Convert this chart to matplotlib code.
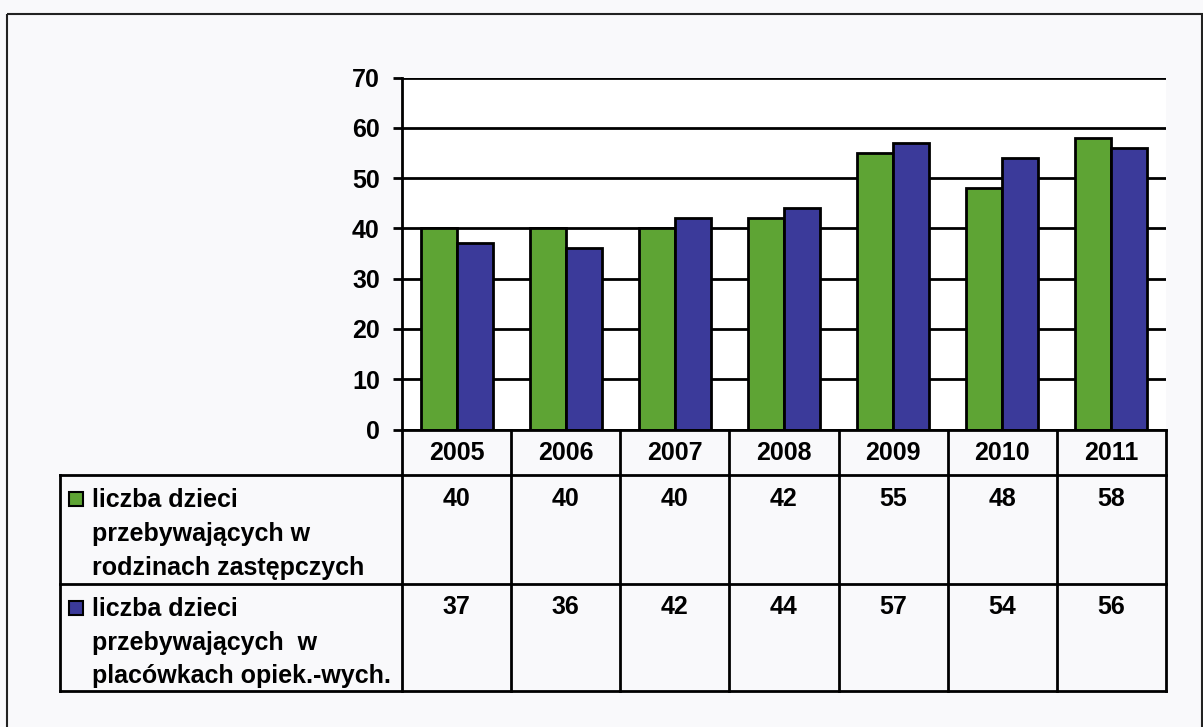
import numpy as np
import matplotlib
matplotlib.use('Agg')
import matplotlib.pyplot as plt
from matplotlib.patches import Rectangle

# dane z wykresu
lata = ['2005', '2006', '2007', '2008', '2009', '2010', '2011']
rodziny = [40, 40, 40, 42, 55, 48, 58]
placowki = [37, 36, 42, 44, 57, 54, 56]
opisy = ['liczba dzieci\nprzebywających w\nrodzinach zastępczych',
         'liczba dzieci\nprzebywających  w\nplacówkach opiek.-wych.']
kolory = ['#5ea434', '#3b3a9a']

plt.rcParams['font.family'] = ['Liberation Sans', 'DejaVu Sans']
plt.rcParams['font.weight'] = 'bold'

W, H = 1203, 727
fig = plt.figure(figsize=(W / 100, H / 100), dpi=100, facecolor='#f9f9fb')

# uklad w pikselach
ax_l, ax_r = 402, 1166
ax_t, ax_b = 77.5, 429.5
wiersz_nagl = 475
wiersze = [475, 583.5]
tab_dol = 691
leg_l = 60

lw = 2.0

ax = fig.add_axes([ax_l / W, 1 - ax_b / H, (ax_r - ax_l) / W, (ax_b - ax_t) / H])
ax.set_facecolor('white')
x = np.arange(len(lata))
bw = 0.33
ax.bar(x - bw / 2, rodziny, bw, color=kolory[0], edgecolor='black', linewidth=lw)
ax.bar(x + bw / 2, placowki, bw, color=kolory[1], edgecolor='black', linewidth=lw)
ax.set_xlim(-0.5, len(lata) - 0.5)
ax.set_ylim(0, 70)
ax.set_yticks(range(0, 71, 10))
ax.set_xticks([])
ax.yaxis.grid(True, color='black', linewidth=lw)
ax.set_axisbelow(True)
for s in ['top', 'right']:
    ax.spines[s].set_visible(False)
for s in ['left', 'bottom']:
    ax.spines[s].set_linewidth(lw)
ax.tick_params(axis='y', length=6.5, width=lw, pad=9.5, labelsize=18)

# tabela danych pod wykresem
tb = fig.add_axes([0, 0, 1, 1], facecolor='none')
tb.set_xlim(0, W)
tb.set_ylim(H, 0)
tb.axis('off')

kol = np.linspace(ax_l, ax_r, len(lata) + 1)
srodki = (kol[:-1] + kol[1:]) / 2
for k in kol:
    tb.plot([k, k], [ax_b, tab_dol], color='black', lw=lw, solid_capstyle='projecting')
for yy in [wiersz_nagl, wiersze[1], tab_dol]:
    tb.plot([leg_l, ax_r], [yy, yy], color='black', lw=lw, solid_capstyle='projecting')
tb.plot([leg_l, leg_l], [wiersz_nagl, tab_dol], color='black', lw=lw, solid_capstyle='projecting')

for cx, rok in zip(srodki, lata):
    tb.text(cx, 460, rok, ha='center', va='baseline', fontsize=18, fontweight='bold')

for top, seria, opis, c in zip(wiersze, [rodziny, placowki], opisy, kolory):
    for cx, v in zip(srodki, seria):
        tb.text(cx, top + 31, str(v), ha='center', va='baseline', fontsize=18, fontweight='bold')
    tb.add_patch(Rectangle((69, top + 17), 14, 14, facecolor=c, edgecolor='black', lw=1.5))
    for linia, dy in zip(opis.split('\n'), [32, 66.5, 100]):
        tb.text(92, top + dy, linia, ha='left', va='baseline', fontsize=18, fontweight='bold')

# ramka wokol calosci
tb.add_patch(Rectangle((7, 14), 1195, 760, fill=False, edgecolor='#222222', lw=1.5, clip_on=False))

fig.savefig('out.png', dpi=100, facecolor=fig.get_facecolor())
